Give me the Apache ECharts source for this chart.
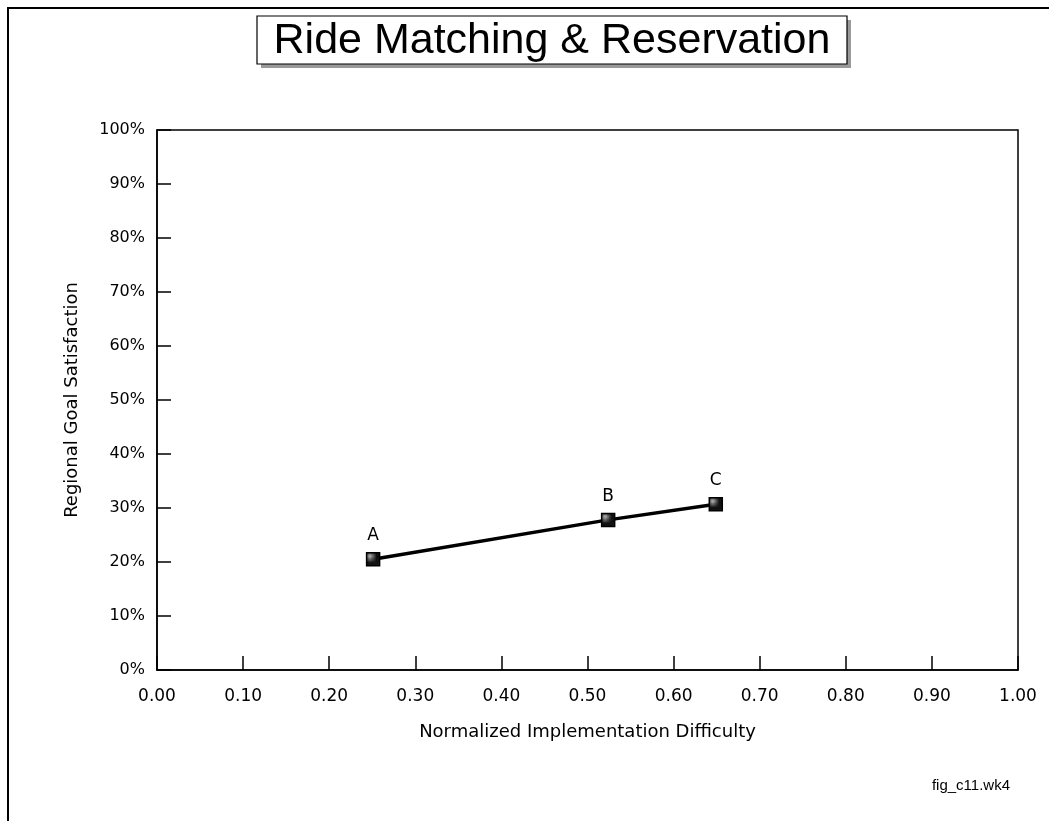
<!DOCTYPE html>
<html>
<head>
<meta charset="utf-8">
<title>Ride Matching &amp; Reservation</title>
<script src="https://cdn.jsdelivr.net/npm/echarts@6/dist/echarts.min.js"></script>
<style>
  html, body { margin: 0; padding: 0; background: #fff; }
  #chart { width: 1049px; height: 821px; }
</style>
</head>
<body>
<div id="chart"></div>
<script>
// Alternatives and their scores
const names = ['A', 'B', 'C'];
const difficulty = [0.251, 0.524, 0.649];
const satisfaction = [0.205, 0.278, 0.307];

const chartTitle = 'Ride Matching & Reservation';
const xName = 'Normalized Implementation Difficulty';
const yName = 'Regional Goal Satisfaction';
const fileTag = 'fig_c11.wk4';

const FONT = '"Liberation Sans", Arial, sans-serif';
const WIDE = '"DejaVu Sans", "Liberation Sans", sans-serif';

// Stippled fill for the square markers
function stipple() {
  const c = document.createElement('canvas');
  c.width = 4; c.height = 4;
  const g = c.getContext('2d');
  g.fillStyle = '#111';
  g.fillRect(0, 0, 4, 4);
  g.fillStyle = '#bbb';
  g.fillRect(1, 1, 1, 1);
  g.fillRect(3, 3, 1, 1);
  return c;
}

const points = names.map((n, i) => ({ name: n, value: [difficulty[i], satisfaction[i]] }));

const chart = echarts.init(document.getElementById('chart'), null, { renderer: 'canvas' });

chart.setOption({
  backgroundColor: '#fff',
  animation: false,
  textStyle: { fontFamily: WIDE },
  grid: {
    left: 157, right: 31, top: 130, bottom: 151,
    show: true, borderColor: '#000', borderWidth: 1.5, backgroundColor: 'transparent'
  },
  xAxis: {
    type: 'value', min: 0, max: 1, interval: 0.1,
    name: xName, nameLocation: 'middle', nameGap: 53,
    nameTextStyle: { color: '#000', fontSize: 18, fontFamily: WIDE },
    axisLine: { show: true, lineStyle: { color: '#000', width: 1.5 } },
    axisTick: { show: true, inside: true, length: 14, lineStyle: { color: '#000', width: 1.5 } },
    axisLabel: { color: '#000', fontSize: 17, fontFamily: WIDE, margin: 18,
      formatter: v => v.toFixed(2) },
    splitLine: { show: false }
  },
  yAxis: {
    type: 'value', min: 0, max: 1, interval: 0.1,
    name: yName, nameLocation: 'middle', nameGap: 76,
    nameTextStyle: { color: '#000', fontSize: 18, fontFamily: WIDE },
    axisLine: { show: true, lineStyle: { color: '#000', width: 1.5 } },
    axisTick: { show: true, inside: true, length: 14, lineStyle: { color: '#000', width: 1.5 } },
    axisLabel: { color: '#000', fontSize: 16, fontFamily: WIDE, margin: 12,
      formatter: v => Math.round(v * 100) + '%' },
    splitLine: { show: false }
  },
  series: [{
    type: 'line',
    data: points,
    symbol: 'rect',
    symbolSize: 13,
    lineStyle: { color: '#000', width: 3.5 },
    itemStyle: {
      color: { image: stipple(), repeat: 'repeat' },
      borderColor: '#000', borderWidth: 1.5
    },
    label: {
      show: true, position: 'top', distance: 8,
      formatter: '{b}', color: '#000', fontSize: 17, fontFamily: WIDE
    },
    z: 3
  }],
  graphic: [
    // page frame
    { type: 'rect', shape: { x: 8, y: 8, width: 1100, height: 900 },
      style: { fill: 'none', stroke: '#000', lineWidth: 2 }, silent: true },
    // title box with drop shadow
    { type: 'rect', shape: { x: 261, y: 20, width: 590, height: 48 },
      style: { fill: '#9a9a9a' }, silent: true },
    { type: 'rect', shape: { x: 257, y: 16, width: 590, height: 48 },
      style: { fill: '#fff', stroke: '#000', lineWidth: 1.2 }, silent: true },
    { type: 'text', x: 552, y: 41,
      style: { text: chartTitle, fill: '#000', font: '43px ' + FONT,
        textAlign: 'center', textVerticalAlign: 'middle' }, silent: true },
    // file tag
    { type: 'text', x: 1010, y: 786,
      style: { text: fileTag, fill: '#000', font: '15px ' + FONT,
        textAlign: 'right', textVerticalAlign: 'middle' }, silent: true }
  ]
});
</script>
</body>
</html>
